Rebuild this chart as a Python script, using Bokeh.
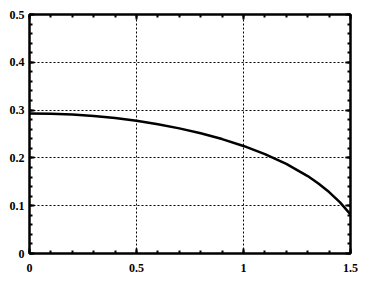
from bokeh.plotting import figure
from bokeh.models import LinearAxis, Range1d, FixedTicker
from bokeh.embed import file_html
from bokeh.resources import INLINE

x_vals = [0.0, 0.1, 0.2, 0.3, 0.4, 0.5, 0.6, 0.7, 0.8, 0.9, 1.0, 1.1, 1.2, 1.3, 1.35, 1.4, 1.45, 1.5]
y_vals = [0.293, 0.2922, 0.2907, 0.2876, 0.2834, 0.2777, 0.2705, 0.2618, 0.2516, 0.2394,
          0.2250, 0.2080, 0.1875, 0.1620, 0.1465, 0.1285, 0.1075, 0.0820]
x_ticks = [0, 0.5, 1, 1.5]
y_ticks = [0, 0.1, 0.2, 0.3, 0.4, 0.5]
x_tick_labels = {0: "0", 0.5: "0.5", 1: "1", 1.5: "1.5"}
y_tick_labels = {0: "0", 0.1: "0.1", 0.2: "0.2", 0.3: "0.3", 0.4: "0.4", 0.5: "0.5"}
x_minor = [round(i * 0.1, 2) for i in range(16)]
y_minor = [round(i * 0.02, 2) for i in range(26)]

p = figure(width=361, height=284, output_backend="svg", toolbar_location=None,
           x_range=Range1d(0, 1.5), y_range=Range1d(0, 0.5),
           min_border_left=29, min_border_top=14, min_border_right=11, min_border_bottom=31,
           x_axis_location=None, y_axis_location=None)
p.background_fill_color = "white"
p.border_fill_color = "white"
p.outline_line_color = "black"
p.outline_line_width = 2

FONT = "Liberation Serif"

def style_axis(ax, ticks, minor, labels, show_labels):
    ax.ticker = FixedTicker(ticks=ticks, minor_ticks=minor)
    ax.axis_line_color = "black"
    ax.axis_line_width = 2
    ax.major_tick_in = 5
    ax.major_tick_out = 0
    ax.minor_tick_in = 3
    ax.minor_tick_out = 0
    ax.major_tick_line_width = 2
    ax.minor_tick_line_width = 2
    ax.major_tick_line_color = "black"
    ax.minor_tick_line_color = "black"
    if show_labels:
        ax.major_label_overrides = labels
        ax.major_label_text_font = FONT
        ax.major_label_text_font_style = "bold"
        ax.major_label_text_font_size = "12px"
        ax.major_label_text_color = "black"
        ax.major_label_standoff = 10
    else:
        ax.major_label_overrides = {t: "" for t in ticks}
        ax.major_label_standoff = 0

xb = LinearAxis()
style_axis(xb, x_ticks, x_minor, x_tick_labels, True)
p.add_layout(xb, "below")
yl = LinearAxis()
style_axis(yl, y_ticks, y_minor, y_tick_labels, True)
yl.major_label_standoff = 5
p.add_layout(yl, "left")
xa = LinearAxis()
style_axis(xa, x_ticks, x_minor, x_tick_labels, False)
p.add_layout(xa, "above")
yr = LinearAxis()
style_axis(yr, y_ticks, y_minor, y_tick_labels, False)
p.add_layout(yr, "right")

p.xgrid.ticker = FixedTicker(ticks=[0.5, 1])
p.ygrid.ticker = FixedTicker(ticks=[0.1, 0.2, 0.3, 0.4])
for g in (p.xgrid[0], p.ygrid[0]):
    g.grid_line_color = "black"
    g.grid_line_width = 1
    g.grid_line_dash = "2 2"

p.line(x_vals, y_vals, line_color="black", line_width=2.5)

open("out.html", "w").write(file_html(p, INLINE))
